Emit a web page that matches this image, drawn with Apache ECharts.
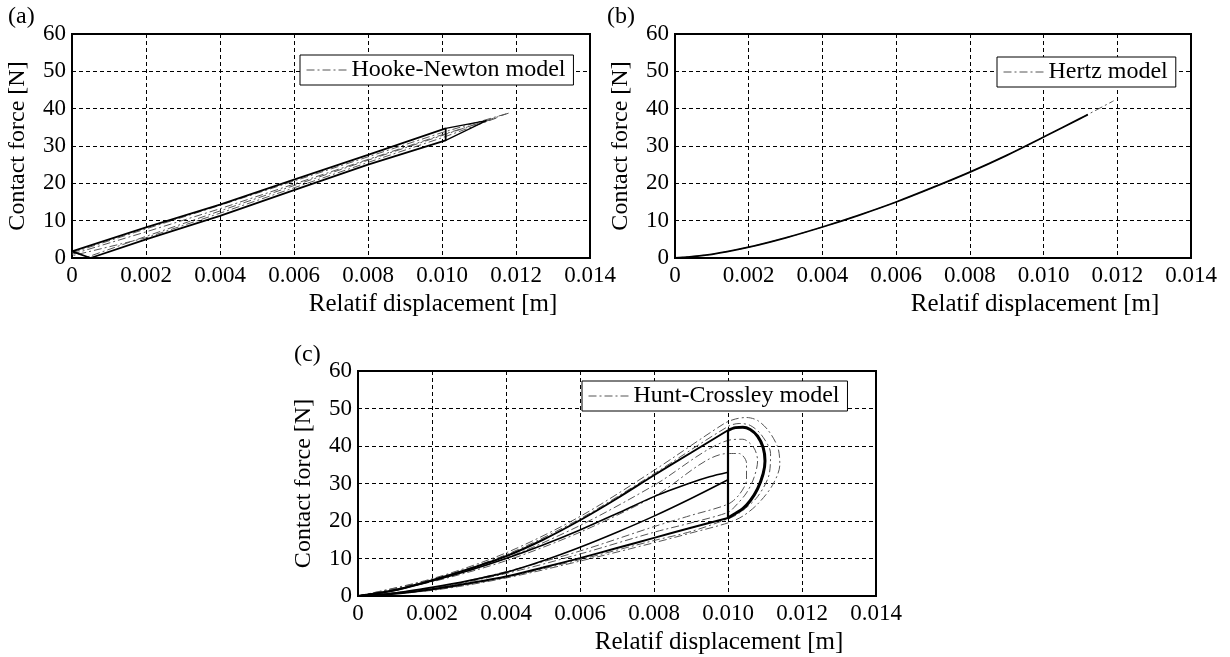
<!DOCTYPE html>
<html>
<head>
<meta charset="utf-8">
<script src="https://cdn.jsdelivr.net/npm/echarts@6/dist/echarts.min.js"></script>
<style>html,body{margin:0;padding:0;background:#fff;}#chart{width:1230px;height:657px;}</style>
</head>
<body>
<div id="chart"></div>
<script>
// ---------- tick labels ----------
const xTickLabels = ['0', '0.002', '0.004', '0.006', '0.008', '0.010', '0.012', '0.014'];
const yTickLabels = ['0', '10', '20', '30', '40', '50', '60'];

// ---------- (a) Hooke-Newton ----------
const hnSolidLoop = [[0,1.8],[0.002,8.2],[0.004,14.3],[0.006,21.0],[0.008,27.6],[0.0101,34.7],[0.0101,31.5],[0.008,25.0],[0.006,18.2],[0.004,11.3],[0.002,5.0],[0.0005,0],[0,1.8]];
const hnSolidTip = [[0.0101,34.7],[0.0112,36.8],[0.0101,31.5]];
const hnModelA = [[0,1.4],[0.002,7.8],[0.004,14.1],[0.006,20.6],[0.008,27.1],[0.010,33.6],[0.0118,38.8]];
const hnModelB = [[0.0118,38.8],[0.010,32.8],[0.008,26.2],[0.006,19.4],[0.004,12.6],[0.002,5.8],[0.0004,0.2]];
const hnModelC = [[0,1.0],[0.002,7.0],[0.004,13.2],[0.006,19.8],[0.008,26.4],[0.010,33.0],[0.0115,37.6],[0.010,32.2],[0.008,25.6],[0.006,18.8],[0.004,12.0],[0.002,5.4],[0,0.6]];

// ---------- (b) Hertz ----------
const hertzMeasured = [[0,0],[0.001,1.0],[0.002,2.9],[0.003,5.4],[0.004,8.3],[0.005,11.5],[0.006,15.0],[0.007,18.9],[0.008,23.0],[0.009,27.5],[0.010,32.4],[0.011,37.4],[0.0112,38.4]];
const hertzModel = [[0,0],[0.001,1.0],[0.002,2.9],[0.003,5.4],[0.004,8.3],[0.005,11.5],[0.006,15.0],[0.007,18.9],[0.008,23.0],[0.009,27.5],[0.010,32.4],[0.011,37.4],[0.0119,42.1]];

// ---------- (c) Hunt-Crossley ----------
const hcLoadUpper = [[0,0],[0.001,1.6],[0.002,4.2],[0.003,7.2],[0.004,10.6],[0.005,15.0],[0.006,20.2],[0.007,26.0],[0.008,32.2],[0.009,38.2],[0.010,44.2]];
const hcLoopSolid = [[0.010,44.2],[0.0102,44.9],[0.0104,45.0],[0.0106,44.4],[0.0108,42.6],[0.01095,39.6],[0.0110,36.0],[0.01095,32.6],[0.0108,28.6],[0.0106,25.4],[0.0104,23.3],[0.0102,22.0],[0.0100,20.8]];
const hcVertical = [[0.010,20.8],[0.010,44.2]];
const hcLoadMid = [[0,0],[0.001,1.5],[0.002,4.0],[0.003,6.8],[0.004,10.0],[0.005,13.6],[0.006,17.6],[0.007,22.0],[0.008,26.5],[0.009,30.2],[0.0095,31.8],[0.010,33.0]];
const hcUnloadUpper = [[0,0],[0.001,0.8],[0.002,2.3],[0.003,4.1],[0.004,6.3],[0.005,9.4],[0.006,13.0],[0.007,17.0],[0.008,21.3],[0.009,26.0],[0.010,31.0]];
const hcUnloadLower = [[0,0],[0.001,0.6],[0.002,1.8],[0.003,3.4],[0.004,5.2],[0.005,7.6],[0.006,10.1],[0.007,12.8],[0.008,15.5],[0.009,18.2],[0.010,20.8]];
const hcModelOuter = [[0,0],[0.002,4.6],[0.004,11.5],[0.006,21.2],[0.008,33.5],[0.0099,46.0],[0.0102,47.2],[0.0105,47.6],[0.0108,46.8],[0.0111,44.0],[0.01135,39.5],[0.0114,35.0],[0.0112,29.5],[0.0108,24.5],[0.0104,21.3],[0.0100,19.5],[0.009,16.8],[0.008,14.2],[0.006,9.3],[0.004,4.8],[0.002,1.5],[0,0]];
const hcModelMid = [[0,0],[0.002,4.4],[0.004,11.0],[0.006,20.6],[0.008,32.6],[0.0100,45.2],[0.0103,46.0],[0.0106,45.5],[0.0109,43.0],[0.01115,38.0],[0.0111,32.0],[0.0108,26.5],[0.0104,22.8],[0.0101,21.0],[0.009,17.2],[0.008,14.8],[0.006,9.7],[0.004,5.0],[0.002,1.6],[0,0]];
const hcModelInner = [[0,0],[0.002,4.0],[0.004,10.1],[0.006,18.8],[0.008,29.5],[0.010,41.5],[0.0104,41.8],[0.0107,39.5],[0.0108,36.0],[0.0107,31.5],[0.0105,27.5],[0.0102,24.0],[0.0100,22.3],[0.009,19.5],[0.008,17.0],[0.006,11.2],[0.004,6.0],[0.002,2.0],[0,0]];
const hcModelSmall = [[0,0],[0.002,3.8],[0.004,9.4],[0.006,17.0],[0.008,26.5],[0.010,38.0],[0.0103,38.0],[0.0105,35.5],[0.0105,31.0],[0.0103,27.0],[0.0100,24.5],[0.009,21.5],[0.008,18.5],[0.006,12.0],[0.004,6.5],[0.002,2.1],[0,0]];

// ---------- styling ----------
const FONT = 'Liberation Serif';
const DASHDOT = [8, 3, 2, 3];
const grids = [
  {left: 72, top: 34, width: 518, height: 224},
  {left: 675, top: 34, width: 516, height: 224},
  {left: 358, top: 371, width: 518, height: 225}
];

function xAxisFor(i) {
  return {
    type: 'value', gridIndex: i, min: 0, max: 0.014, interval: 0.002,
    name: 'Relatif displacement [m]', nameLocation: 'middle', nameGap: 34,
    nameTextStyle: {fontFamily: FONT, fontSize: 25, color: '#000', padding: [0, 0, 0, 204]},
    axisLine: {show: false}, axisTick: {show: false},
    axisLabel: {fontFamily: FONT, fontSize: 23, color: '#000', margin: 6,
      formatter: v => xTickLabels[Math.round(v / 0.002)]},
    splitLine: {show: true, lineStyle: {color: '#000', width: 1, type: [4, 3]}}
  };
}
function yAxisFor(i) {
  return {
    type: 'value', gridIndex: i, min: 0, max: 60, interval: 10,
    name: 'Contact force [N]', nameLocation: 'middle', nameGap: 42,
    nameTextStyle: {fontFamily: FONT, fontSize: 24, color: '#000'},
    axisLine: {show: false}, axisTick: {show: false},
    axisLabel: {fontFamily: FONT, fontSize: 23, color: '#000', margin: 6,
      formatter: v => yTickLabels[Math.round(v / 10)]},
    splitLine: {show: true, lineStyle: {color: '#000', width: 1, type: [4, 3]}}
  };
}
function line(name, idx, data, opts) {
  return Object.assign({
    name: name, type: 'line', xAxisIndex: idx, yAxisIndex: idx, data: data,
    showSymbol: false, symbol: 'none', animation: false, silent: true,
    itemStyle: {color: '#000'},
    lineStyle: {color: '#000', width: 1.5, type: 'solid'}, z: 3
  }, opts || {});
}
function model(name, idx, data, smooth) {
  return line(name, idx, data, {smooth: smooth || 0, z: 2,
    itemStyle: {color: '#555'},
    lineStyle: {color: '#555', width: 1, type: DASHDOT}});
}
function legendFor(name, left, top) {
  return {
    data: [{name: name, itemStyle: {opacity: 0}}], left: left, top: top, orient: 'horizontal',
    backgroundColor: '#fff', borderColor: '#000', borderWidth: 1, borderRadius: 0,
    padding: [3, 8, 3, 6], itemWidth: 40, itemHeight: 14, itemGap: 4,
    itemStyle: {opacity: 0},
    lineStyle: {color: '#555', width: 1, type: DASHDOT},
    textStyle: {fontFamily: FONT, fontSize: 24, color: '#000'},
    selectedMode: false, z: 10
  };
}

const chart = echarts.init(document.getElementById('chart'), null, {renderer: 'canvas'});
chart.setOption({
  backgroundColor: '#fff',
  animation: false,
  grid: grids.map(g => Object.assign({show: true, borderColor: '#000', borderWidth: 2, backgroundColor: 'transparent', containLabel: false}, g)),
  xAxis: [0, 1, 2].map(xAxisFor),
  yAxis: [0, 1, 2].map(yAxisFor),
  legend: [
    legendFor('Hooke-Newton model', 300, 55),
    legendFor('Hertz model', 997, 57),
    legendFor('Hunt-Crossley model', 582, 381)
  ],
  graphic: [
    {type: 'text', left: 8, top: 5, style: {text: '(a)', font: '24px "Liberation Serif"', fill: '#000'}},
    {type: 'text', left: 607, top: 5, style: {text: '(b)', font: '24px "Liberation Serif"', fill: '#000'}},
    {type: 'text', left: 294, top: 343, style: {text: '(c)', font: '24px "Liberation Serif"', fill: '#000'}}
  ],
  series: [
    model('Hooke-Newton model', 0, hnModelA),
    model('Hooke-Newton model', 0, hnModelB),
    model('Hooke-Newton model', 0, hnModelC),
    line('HN measured', 0, hnSolidLoop, {lineStyle: {color: '#000', width: 1.8}}),
    line('HN measured', 0, hnSolidTip, {lineStyle: {color: '#000', width: 1.2}}),

    model('Hertz model', 1, hertzModel, 0.3),
    line('Hertz measured', 1, hertzMeasured, {smooth: 0.3, lineStyle: {color: '#000', width: 1.8}}),

    model('Hunt-Crossley model', 2, hcModelOuter, 0.3),
    model('Hunt-Crossley model', 2, hcModelMid, 0.3),
    model('Hunt-Crossley model', 2, hcModelInner, 0.3),
    model('Hunt-Crossley model', 2, hcModelSmall, 0.3),
    line('HC measured', 2, hcLoadUpper, {smooth: 0.3, lineStyle: {color: '#000', width: 2}}),
    line('HC measured', 2, hcLoadMid, {smooth: 0.3, lineStyle: {color: '#000', width: 1.6}}),
    line('HC measured', 2, hcUnloadUpper, {smooth: 0.3, lineStyle: {color: '#000', width: 1.6}}),
    line('HC measured', 2, hcUnloadLower, {smooth: 0.3, lineStyle: {color: '#000', width: 2}}),
    line('HC measured', 2, hcLoopSolid, {smooth: 0.3, lineStyle: {color: '#000', width: 3}}),
    line('HC measured', 2, hcVertical, {lineStyle: {color: '#000', width: 2.2}})
  ]
});
</script>
</body>
</html>
